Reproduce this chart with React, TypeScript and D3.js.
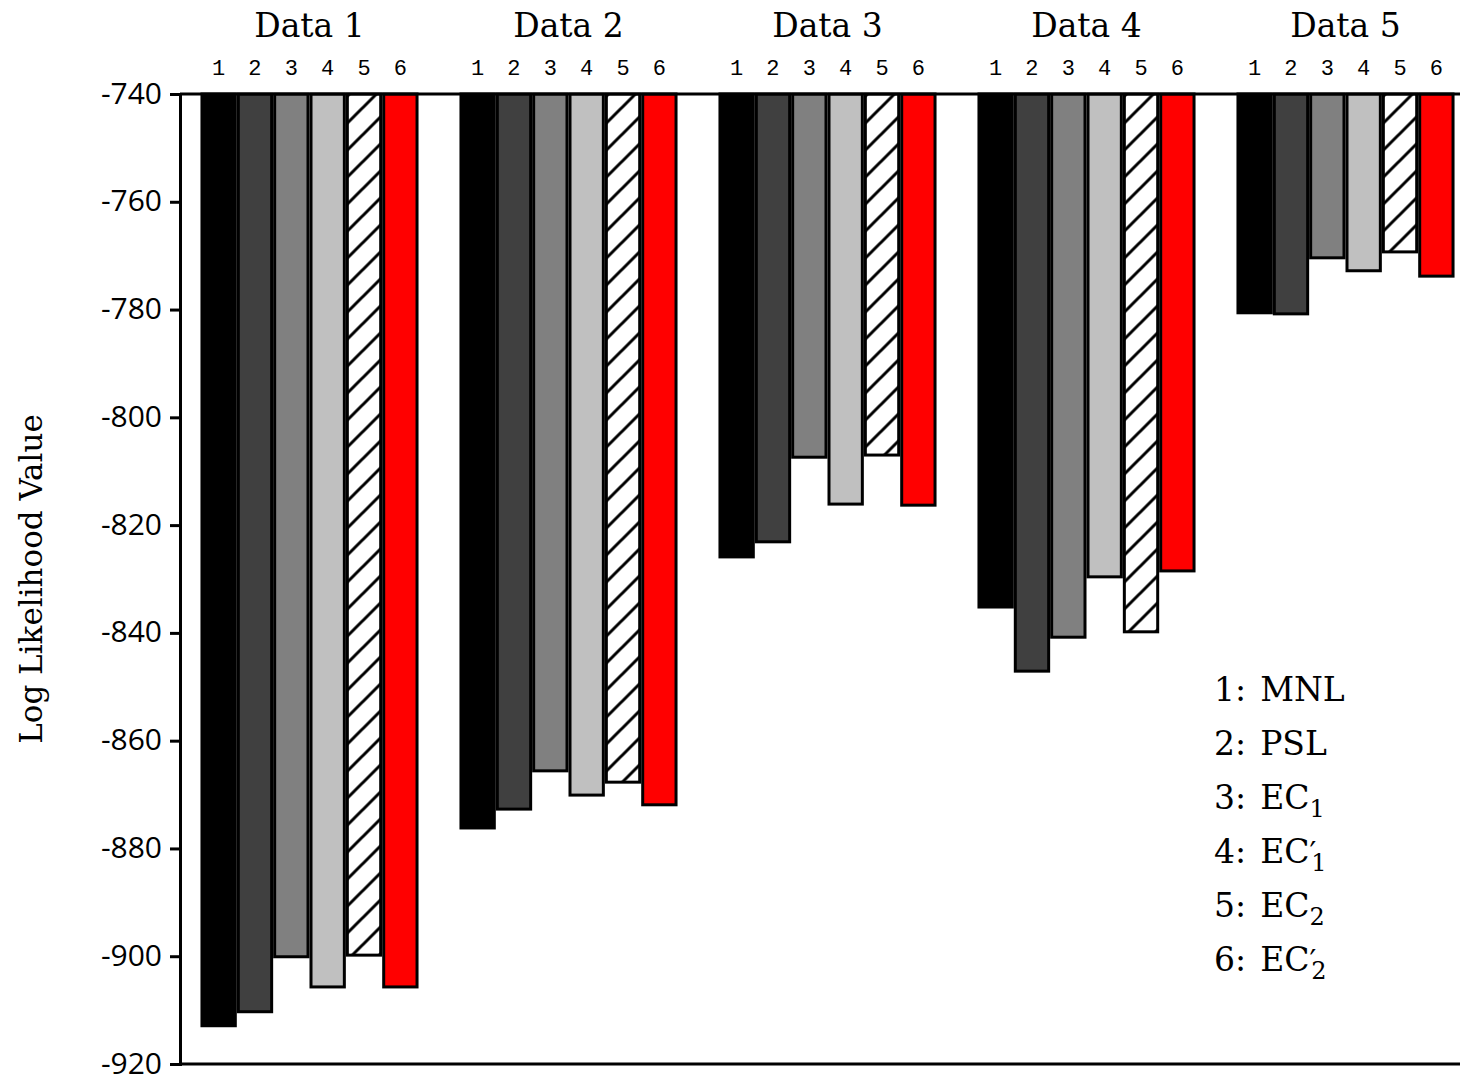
import React, { useEffect, useRef } from 'react'
import * as d3 from 'd3'

const groups = ['Data 1', 'Data 2', 'Data 3', 'Data 4', 'Data 5']
const methods = ['1', '2', '3', '4', '5', '6']
// one array per method, values for Data 1..5
const mnl = [-912.9, -876.2, -825.9, -835.2, -780.6]
const psl = [-910.3, -872.7, -823.1, -847.1, -780.8]
const ec1 = [-900.1, -865.6, -807.4, -840.8, -770.4]
const ec1p = [-905.7, -870.1, -816.1, -829.6, -772.8]
const ec2 = [-899.8, -867.7, -807.0, -839.8, -769.3]
const ec2p = [-905.7, -871.9, -816.3, -828.5, -773.8]
const yTicks = [-740, -760, -780, -800, -820, -840, -860, -880, -900, -920]
const legendNames = [
  { n: '1', base: 'MNL', prime: false, sub: '' },
  { n: '2', base: 'PSL', prime: false, sub: '' },
  { n: '3', base: 'EC', prime: false, sub: '1' },
  { n: '4', base: 'EC', prime: true, sub: '1' },
  { n: '5', base: 'EC', prime: false, sub: '2' },
  { n: '6', base: 'EC', prime: true, sub: '2' },
]

const series = [mnl, psl, ec1, ec1p, ec2, ec2p]
const fills = ['#000000', '#404040', '#808080', '#c0c0c0', 'url(#hatch)', '#ff0000']

const serif = "'DejaVu Serif', serif"

const App = () => {
  const ref = useRef<SVGGElement>(null)

  useEffect(() => {
    const g = d3.select(ref.current)
    g.selectAll('*').remove()

    const left = 180, top = 94, bottom = 1064, right = 1460

    const x0 = d3.scaleBand<string>().domain(groups).range([left, left + 5 * 259])
      .paddingInner(0.158).paddingOuter(0.079)
    const x1 = d3.scaleBand<string>().domain(methods).range([0, x0.bandwidth()])
    const y = d3.scaleLinear().domain([-740, -920]).range([top, bottom])

    // hatch pattern
    const defs = g.append('defs')
    const pat = defs.append('pattern').attr('id', 'hatch')
      .attr('patternUnits', 'userSpaceOnUse').attr('width', 27).attr('height', 27)
    pat.append('rect').attr('width', 27).attr('height', 27).attr('fill', '#fff')
    pat.append('path').attr('d', 'M-2,29 L29,-2 M-15,15 L15,-15 M12,42 L42,12')
      .attr('stroke', '#000').attr('stroke-width', 3)

    // bars
    groups.forEach((grp, gi) => {
      const gg = g.append('g').attr('transform', `translate(${x0(grp)},0)`)
      methods.forEach((m, mi) => {
        const v = series[mi][gi]
        gg.append('rect')
          .attr('x', x1(m)! + 1.5)
          .attr('y', y(-740))
          .attr('width', x1.bandwidth() - 3)
          .attr('height', y(v) - y(-740))
          .attr('fill', fills[mi])
          .attr('stroke', '#000')
          .attr('stroke-width', 3)
        gg.append('text')
          .attr('x', x1(m)! + x1.bandwidth() / 2)
          .attr('y', 75)
          .attr('text-anchor', 'middle')
          .attr('font-family', "'Liberation Mono', monospace")
          .attr('font-size', 22)
          .text(m)
      })
      gg.append('text')
        .attr('x', x0.bandwidth() / 2)
        .attr('y', 37)
        .attr('text-anchor', 'middle')
        .attr('font-family', serif)
        .attr('font-size', 33)
        .text(grp)
    })

    // axes frame
    g.append('line').attr('x1', left).attr('x2', right).attr('y1', top).attr('y2', top)
      .attr('stroke', '#000').attr('stroke-width', 3)
    g.append('line').attr('x1', left).attr('x2', right).attr('y1', bottom).attr('y2', bottom)
      .attr('stroke', '#000').attr('stroke-width', 3)

    const yAxis = d3.axisLeft(y).tickValues(yTicks).tickSize(10).tickPadding(8)
      .tickFormat(d => String(d))
    const yAxisG = g.append('g').attr('transform', `translate(${left},0)`).call(yAxis)
    yAxisG.select('.domain').attr('stroke-width', 3)
    yAxisG.selectAll('line').attr('stroke-width', 3)
    yAxisG.selectAll('text')
      .attr('font-size', 30)
      .attr('font-family', "'Open Sans', sans-serif")
      .attr('fill', '#000')
      .attr('dy', '0.3em')

    g.append('text')
      .attr('transform', `translate(42,${(top + bottom) / 2}) rotate(-90)`)
      .attr('text-anchor', 'middle')
      .attr('font-family', serif)
      .attr('font-size', 31)
      .text('Log Likelihood Value')

    // legend
    legendNames.forEach((d, i) => {
      const t = g.append('text')
        .attr('x', 1214)
        .attr('y', 701 + i * 54)
        .attr('font-family', serif)
        .attr('font-size', 33)
      t.append('tspan').text(`${d.n}:`)
      t.append('tspan').attr('dx', 14).text(d.base)
      if (d.prime) t.append('tspan').attr('font-size', 30).text('′')
      if (d.sub) {
        t.append('tspan')
          .attr('dx', d.prime ? -5 : 0)
          .attr('dy', 8)
          .attr('font-size', 24)
          .text(d.sub)
      }
    })
  }, [])

  return (
    <svg width={1460} height={1079} style={{ position: 'absolute', left: 0, top: 0 }}>
      <g ref={ref} />
    </svg>
  )
}

export default App
